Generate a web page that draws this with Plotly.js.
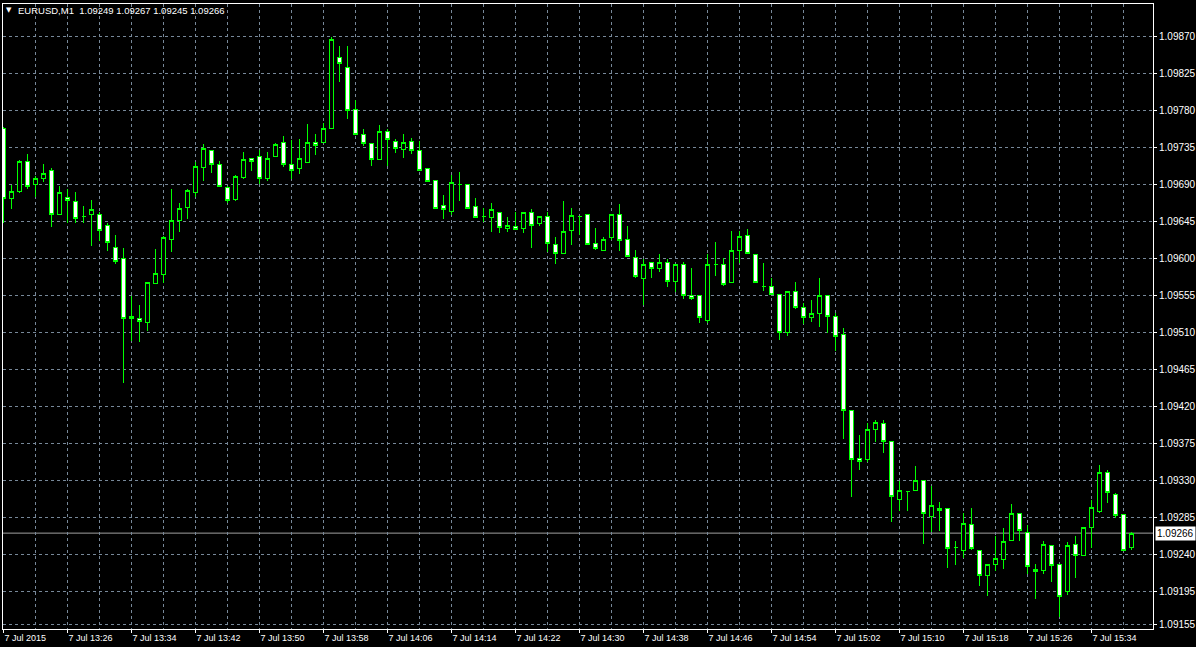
<!DOCTYPE html>
<html>
<head>
<meta charset="utf-8">
<script src="https://cdn.plot.ly/plotly-3.0.1.min.js"></script>
<style>
html,body{margin:0;padding:0;background:#000;overflow:hidden;}
#chart{width:1196px;height:647px;}
g.trace.boxes path{shape-rendering:crispEdges;}
</style>
</head>
<body>
<div id="chart"></div>
<script>
// ---- chart values ----
const symbol = 'EURUSD';
const period = 'M1';

const open = [
1.09758,1.09673,1.09682,1.09718,1.09690,1.09697,1.09707,1.09654,1.09674,1.09669,
1.09651,1.09654,1.09654,1.09640,1.09613,1.09600,1.09530,1.09527,1.09522,1.09570,
1.09581,1.09623,1.09646,1.09662,1.09680,1.09711,1.09731,1.09714,1.09686,1.09672,
1.09699,1.09722,1.09724,1.09697,1.09724,1.09741,1.09714,1.09709,1.09717,1.09741,
1.09741,1.09758,1.09844,1.09832,1.09781,1.09751,1.09740,1.09720,1.09754,1.09742,
1.09732,1.09742,1.09731,1.09709,1.09695,1.09664,1.09657,1.09690,1.09690,1.09663,
1.09651,1.09650,1.09656,1.09636,1.09639,1.09636,1.09656,1.09643,1.09651,1.09617,
1.09606,1.09634,1.09651,1.09654,1.09618,1.09610,1.09626,1.09654,1.09623,1.09601,
1.09576,1.09595,1.09588,1.09595,1.09572,1.09593,1.09555,1.09555,1.09525,1.09593,
1.09593,1.09571,1.09610,1.09628,1.09605,1.09566,1.09566,1.09556,1.09510,1.09560,
1.09540,1.09528,1.09533,1.09555,1.09529,1.09508,1.09415,1.09357,1.09355,1.09392,
1.09399,1.09377,1.09307,1.09317,1.09318,1.09330,1.09286,1.09296,1.09296,1.09249,
1.09245,1.09276,1.09245,1.09214,1.09228,1.09234,1.09257,1.09290,1.09267,1.09222,
1.09220,1.09251,1.09228,1.09195,1.09252,1.09239,1.09273,1.09292,1.09340,1.09313,
1.09289,1.09249];

const high = [
1.09760,1.09690,1.09720,1.09727,1.09700,1.09715,1.09710,1.09688,1.09685,1.09681,
1.09664,1.09671,1.09656,1.09643,1.09628,1.09613,1.09555,1.09544,1.09571,1.09611,
1.09627,1.09684,1.09667,1.09684,1.09717,1.09739,1.09732,1.09718,1.09688,1.09701,
1.09730,1.09722,1.09732,1.09730,1.09741,1.09749,1.09744,1.09745,1.09763,1.09752,
1.09765,1.09870,1.09859,1.09859,1.09793,1.09758,1.09741,1.09762,1.09757,1.09745,
1.09751,1.09747,1.09743,1.09709,1.09695,1.09677,1.09701,1.09705,1.09690,1.09673,
1.09662,1.09667,1.09656,1.09651,1.09656,1.09656,1.09660,1.09651,1.09657,1.09626,
1.09670,1.09661,1.09651,1.09654,1.09637,1.09626,1.09654,1.09666,1.09640,1.09610,
1.09600,1.09596,1.09605,1.09599,1.09593,1.09596,1.09589,1.09555,1.09606,1.09620,
1.09601,1.09634,1.09634,1.09636,1.09605,1.09594,1.09576,1.09557,1.09560,1.09571,
1.09546,1.09549,1.09576,1.09555,1.09534,1.09515,1.09416,1.09385,1.09400,1.09403,
1.09404,1.09377,1.09330,1.09317,1.09348,1.09330,1.09323,1.09304,1.09297,1.09256,
1.09291,1.09296,1.09245,1.09228,1.09262,1.09272,1.09301,1.09290,1.09276,1.09228,
1.09256,1.09251,1.09228,1.09255,1.09263,1.09274,1.09306,1.09349,1.09343,1.09315,
1.09289,1.09267];

const low = [
1.09643,1.09660,1.09680,1.09684,1.09675,1.09693,1.09638,1.09653,1.09643,1.09643,
1.09643,1.09615,1.09621,1.09609,1.09593,1.09448,1.09500,1.09499,1.09512,1.09570,
1.09570,1.09608,1.09632,1.09648,1.09675,1.09694,1.09704,1.09687,1.09668,1.09670,
1.09697,1.09707,1.09691,1.09694,1.09724,1.09711,1.09697,1.09703,1.09717,1.09726,
1.09741,1.09758,1.09815,1.09770,1.09751,1.09737,1.09713,1.09720,1.09712,1.09728,
1.09722,1.09727,1.09707,1.09693,1.09661,1.09648,1.09653,1.09670,1.09661,1.09650,
1.09645,1.09632,1.09631,1.09632,1.09635,1.09631,1.09613,1.09640,1.09608,1.09593,
1.09606,1.09617,1.09629,1.09617,1.09610,1.09609,1.09623,1.09609,1.09602,1.09576,
1.09544,1.09576,1.09583,1.09565,1.09559,1.09551,1.09549,1.09521,1.09522,1.09579,
1.09566,1.09571,1.09595,1.09605,1.09570,1.09560,1.09556,1.09501,1.09506,1.09538,
1.09520,1.09523,1.09517,1.09510,1.09488,1.09381,1.09310,1.09343,1.09353,1.09377,
1.09364,1.09279,1.09293,1.09293,1.09318,1.09253,1.09267,1.09268,1.09224,1.09227,
1.09236,1.09245,1.09202,1.09189,1.09220,1.09222,1.09256,1.09256,1.09216,1.09186,
1.09216,1.09207,1.09164,1.09191,1.09212,1.09238,1.09248,1.09290,1.09303,1.09285,
1.09245,1.09245];

const close = [
1.09673,1.09682,1.09718,1.09687,1.09697,1.09703,1.09654,1.09680,1.09671,1.09649,
1.09651,1.09660,1.09634,1.09619,1.09596,1.09527,1.09527,1.09523,1.09571,1.09582,
1.09626,1.09646,1.09661,1.09683,1.09712,1.09734,1.09714,1.09688,1.09670,1.09700,
1.09720,1.09718,1.09697,1.09722,1.09739,1.09714,1.09707,1.09722,1.09741,1.09738,
1.09758,1.09866,1.09837,1.09780,1.09751,1.09740,1.09720,1.09754,1.09745,1.09734,
1.09741,1.09731,1.09707,1.09694,1.09661,1.09660,1.09692,1.09690,1.09661,1.09650,
1.09651,1.09660,1.09638,1.09640,1.09635,1.09656,1.09640,1.09651,1.09618,1.09606,
1.09633,1.09652,1.09651,1.09617,1.09612,1.09623,1.09654,1.09622,1.09602,1.09578,
1.09593,1.09588,1.09595,1.09572,1.09593,1.09555,1.09551,1.09528,1.09593,1.09593,
1.09568,1.09610,1.09627,1.09606,1.09571,1.09566,1.09556,1.09510,1.09560,1.09540,
1.09528,1.09533,1.09555,1.09529,1.09505,1.09415,1.09355,1.09353,1.09392,1.09400,
1.09377,1.09310,1.09318,1.09317,1.09330,1.09290,1.09300,1.09294,1.09247,1.09249,
1.09278,1.09247,1.09214,1.09228,1.09235,1.09256,1.09290,1.09269,1.09225,1.09219,
1.09252,1.09227,1.09189,1.09251,1.09239,1.09273,1.09297,1.09340,1.09315,1.09287,
1.09245,1.09266];

const xTickLabels = ['7 Jul 2015','7 Jul 13:26','7 Jul 13:34','7 Jul 13:42','7 Jul 13:50',
  '7 Jul 13:58','7 Jul 14:06','7 Jul 14:14','7 Jul 14:22','7 Jul 14:30','7 Jul 14:38',
  '7 Jul 14:46','7 Jul 14:54','7 Jul 15:02','7 Jul 15:10','7 Jul 15:18','7 Jul 15:26','7 Jul 15:34'];
const xTickBars = [0,8,16,24,32,40,48,56,64,72,80,88,96,104,112,120,128,136];

const priceTicks = [1.09155,1.09195,1.09240,1.09285,1.09330,1.09375,1.09420,1.09465,
  1.09510,1.09555,1.09600,1.09645,1.09690,1.09735,1.09780,1.09825,1.09870];

const bidPrice = 1.09266;

// ---- drawing ----
const bars = open.map((_, i) => i);
const last = open.length - 1;
const gridColor = '#778899';
const green = '#00ff00';

const trace = {
  type: 'candlestick',
  x: bars, open: open, high: high, low: low, close: close,
  increasing: {line: {color: green, width: 1}, fillcolor: '#000000'},
  decreasing: {line: {color: green, width: 1}, fillcolor: '#ffffff'},
  whiskerwidth: 0,
  hoverinfo: 'skip',
  showlegend: false
};

const headerText = symbol + ',' + period + '\u00a0\u00a0' +
  [open[last], high[last], low[last], close[last]].map(v => v.toFixed(5)).join(' ');

const tickFont = {family: 'Liberation Sans, Arial, sans-serif', size: 10, color: '#ffffff'};

const layout = {
  width: 1196, height: 647,
  paper_bgcolor: '#000000', plot_bgcolor: '#000000',
  margin: {l: 3, r: 43, t: 4, b: 18, pad: 0},
  showlegend: false,
  boxgap: 0.5, boxgroupgap: 0,
  xaxis: {
    range: [-0.0625, 143.6875],
    tickmode: 'array', tickvals: xTickBars, ticktext: xTickLabels,
    ticks: 'outside', ticklen: 3, tickcolor: '#ffffff', tickwidth: 1,
    ticklabelposition: 'outside right',
    tickfont: {family: 'Liberation Sans, Arial, sans-serif', size: 9, color: '#ffffff'},
    showline: true, linecolor: '#ffffff', linewidth: 1, mirror: true,
    showgrid: true, gridcolor: gridColor, griddash: '3px,3px', gridwidth: 1,
    minor: {tickmode: 'linear', tick0: 0, dtick: 4, showgrid: true,
            gridcolor: gridColor, griddash: '3px,3px', gridwidth: 1, ticks: ''},
    zeroline: false, automargin: false,
    rangeslider: {visible: false}, fixedrange: true
  },
  yaxis: {
    side: 'right',
    range: [1.0914940, 1.0990953],
    tickmode: 'array', tickvals: priceTicks, ticktext: priceTicks.map(v => v.toFixed(5)),
    ticks: 'outside', ticklen: 3, tickcolor: '#ffffff', tickwidth: 1,
    tickfont: tickFont,
    showline: true, linecolor: '#ffffff', linewidth: 1, mirror: true,
    showgrid: true, gridcolor: gridColor, griddash: '3px,3px', gridwidth: 1,
    zeroline: false, automargin: false, fixedrange: true
  },
  shapes: [{
    type: 'line', xref: 'paper', x0: 0, x1: 1, yref: 'y', y0: bidPrice, y1: bidPrice,
    line: {color: '#a0a0a0', width: 1}, layer: 'below'
  }],
  annotations: [
    {xref: 'paper', yref: 'y', x: 1, y: bidPrice, xanchor: 'left', yanchor: 'middle',
     xshift: 2, text: bidPrice.toFixed(5), showarrow: false,
     bgcolor: '#ffffff', borderpad: 1,
     font: {family: 'Liberation Sans, Arial, sans-serif', size: 10, color: '#000000'}},
    {xref: 'paper', yref: 'paper', x: 0, y: 1, xanchor: 'left', yanchor: 'middle',
     xshift: 1, yshift: -6, text: '\u25BC', showarrow: false,
     font: {family: 'DejaVu Sans, sans-serif', size: 7, color: '#ffffff'}},
    {xref: 'paper', yref: 'paper', x: 0, y: 1, xanchor: 'left', yanchor: 'middle',
     xshift: 13, yshift: -6, text: headerText, showarrow: false,
     font: {family: 'Liberation Sans, Arial, sans-serif', size: 9.5, color: '#ffffff'}}
  ]
};

Plotly.newPlot('chart', [trace], layout, {staticPlot: true, displayModeBar: false});
</script>
</body>
</html>
